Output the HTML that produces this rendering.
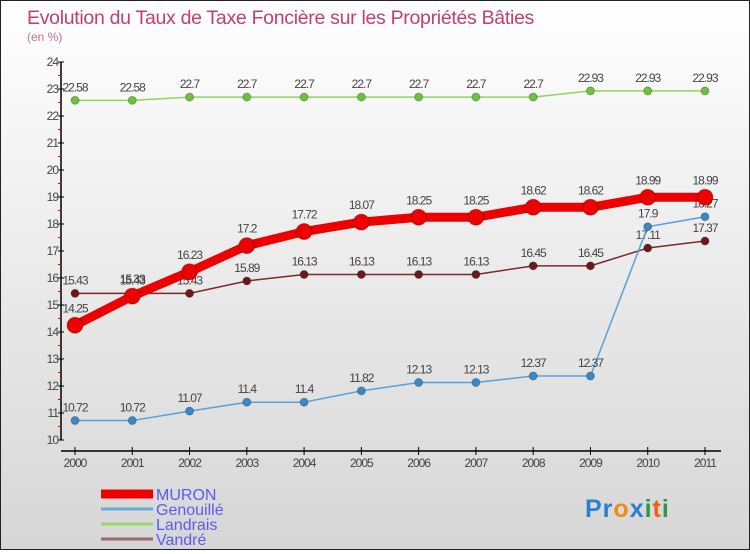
<!DOCTYPE html>
<html><head><meta charset="utf-8"><style>
html,body{margin:0;padding:0}
body{width:750px;height:550px;overflow:hidden}
#wrap{position:relative;width:748px;height:548px;border:1px solid #222;background:linear-gradient(#ffffff,#d6d6d6)}
svg text{font-family:"Liberation Sans",sans-serif}
</style></head><body>
<div id="wrap">
<svg id="chart" width="748" height="548">
<text x="26" y="23" font-size="19.5" fill="#c2406a" letter-spacing="-0.3">Evolution du Taux de Taxe Foncière sur les Propriétés Bâties</text>
<text x="26" y="40" font-size="12" fill="#c2708e">(en %)</text>
<g id="axes"></g>
<g id="series"></g>
<g id="legend"></g>
<text x="584" y="516" font-size="25" font-weight="bold" letter-spacing="1"><tspan fill="#2a7fd0">Pr</tspan><tspan fill="#f08a10">o</tspan><tspan fill="#2a7fd0">x</tspan><tspan fill="#2a9a40">i</tspan><tspan fill="#f06010">t</tspan><tspan fill="#2a9a40">i</tspan></text>
</svg>
</div>
<script>
const years=[2000,2001,2002,2003,2004,2005,2006,2007,2008,2009,2010,2011];
const yTicks=[10,11,12,13,14,15,16,17,18,19,20,21,22,23,24];
const muron=[14.25,15.33,16.23,17.2,17.72,18.07,18.25,18.25,18.62,18.62,18.99,18.99];
const genouille=[10.72,10.72,11.07,11.4,11.4,11.82,12.13,12.13,12.37,12.37,17.9,18.27];
const landrais=[22.58,22.58,22.7,22.7,22.7,22.7,22.7,22.7,22.7,22.93,22.93,22.93];
const vandre=[15.43,15.43,15.43,15.89,16.13,16.13,16.13,16.13,16.45,16.45,17.11,17.37];
const seriesNames=["MURON","Genouillé","Landrais","Vandré"];
const NS="http://www.w3.org/2000/svg";
function X(i){return 74+i*(630/(years.length-1));}
function Y(v){return 439-(v-10)*27;}
function mk(tag,attrs,parent,txt){const e=document.createElementNS(NS,tag);for(const k in attrs)e.setAttribute(k,attrs[k]);if(txt!==undefined)e.textContent=txt;parent.appendChild(e);return e;}
const axes=document.getElementById('axes');
const ya=mk('line',{x1:60,y1:Y(24),x2:60,y2:Y(10),stroke:'#000','stroke-width':1.5},axes);


yTicks.forEach(t=>{
  mk('line',{x1:57,y1:Y(t),x2:63,y2:Y(t),stroke:'#000'},axes);
  const l=mk('text',{x:57,y:Y(t)+4,'font-size':12,fill:'#444','text-anchor':'end','letter-spacing':'-1'},axes,t);
  
  
  if(t<24)mk('line',{x1:57,y1:Y(t+0.5),x2:60,y2:Y(t+0.5),stroke:'#e00'},axes);
});
const xa=mk('line',{x1:60,y1:450,x2:720,y2:450,stroke:'#000','stroke-width':1.5},axes);


years.forEach((y,i)=>{
  mk('line',{x1:X(i),y1:446,x2:X(i),y2:454,stroke:'#000'},axes);
  const l=mk('text',{x:X(i),y:466,'font-size':12,fill:'#444','text-anchor':'middle','letter-spacing':'-1'},axes,y);
  
  
});
const sg=document.getElementById('series');
const defs=[
 {d:landrais,c:'#8fd65a',dot:'#6cc23a',w:1.5,r:4,name:'landrais'},
 {d:vandre,c:'#7a2a2a',dot:'#6a1a1a',w:1.5,r:4,name:'vandre'},
 {d:genouille,c:'#5aa0d8',dot:'#3a88c8',w:1.5,r:4,name:'genouille'},
 {d:muron,c:'#ee0000',dot:'#ee0000',w:9,r:8,name:'muron'}
];
defs.forEach(s=>{
  const g=mk('g',{},sg);
  
  
  const pts=s.d.map((v,i)=>X(i)+','+Y(v)).join(' ');
  mk('polyline',{points:pts,fill:'none',stroke:s.c,'stroke-width':s.w,'stroke-linejoin':'round'},g);
  s.d.forEach((v,i)=>{
    const c=mk('circle',{cx:X(i),cy:Y(v),r:s.r,fill:s.dot,stroke:'rgba(0,0,0,0.25)','stroke-width':1},g);
    
    
    const t=mk('text',{x:X(i),y:Y(v)-s.r-5,'font-size':12,fill:'#444','text-anchor':'middle','letter-spacing':'-1'},g,String(v));
    
    
  });
});
const lg=document.getElementById('legend');
const lc=['#ee0000','#6aaad8','#9ad870','#9a6a6a'],lw=[9,3,3,3];
seriesNames.forEach((n,i)=>{
  const y=493+i*15;
  const g=mk('g',{},lg);
  
  
  mk('line',{x1:100,y1:y,x2:152,y2:y,stroke:lc[i],'stroke-width':lw[i]},g);
  mk('text',{x:155,y:y+6,'font-size':16,fill:'#5a5af0'},g,n);
});
</script>
</body></html>
